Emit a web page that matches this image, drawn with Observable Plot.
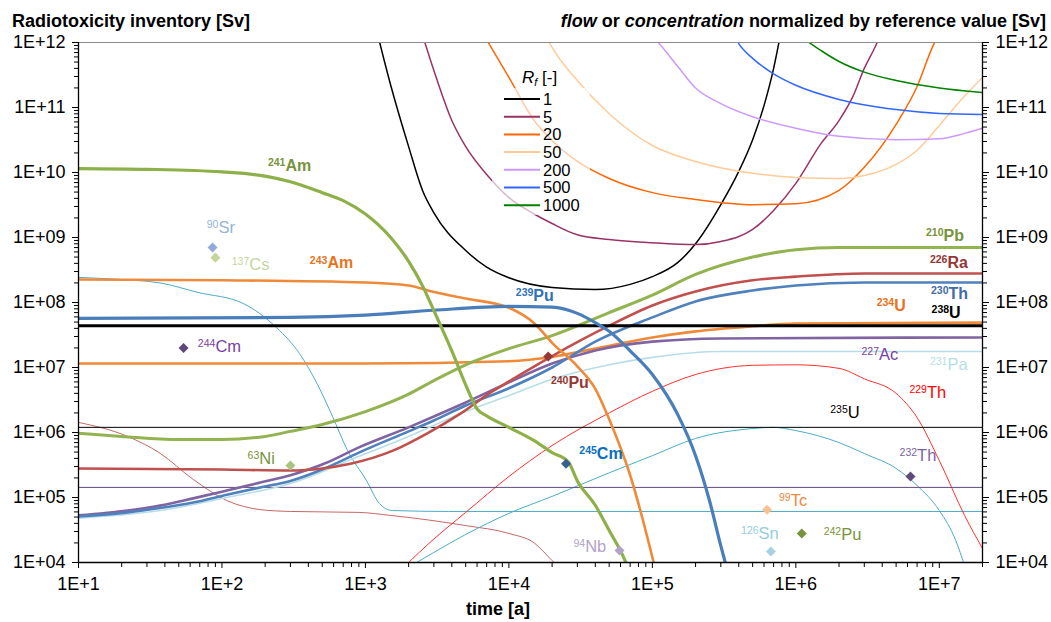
<!DOCTYPE html>
<html><head><meta charset="utf-8">
<script src="https://cdn.jsdelivr.net/npm/d3@7"></script>
<script src="https://cdn.jsdelivr.net/npm/@observablehq/plot@0.6"></script>
<style>
body{margin:0;background:#fff;}
#chart{width:1051px;height:622px;}
</style>
</head><body><div id="chart"></div>
<script>
// ---------------- data (time [a], value [Sv]) ----------------
const am241 = [[10,1.15e10],[30,1.12e10],[100,1.02e10],[200,8.8e9],[300,7.2e9],[500,4.9e9],[700,3.7e9],[1000,2.3e9],[1500,1e9],[2000,4.3e8],[2500,1.8e8],[3000,7.5e7],[4000,1.8e7],[5000,5.4e6],[6000,2.3e6],[7000,1.8e6],[1e4,1.2e6],[1.5e4,7.5e5],[2e4,4.9e5],[2.6e4,3.5e5],[3e4,1.8e5],[4e4,7.6e4],[5e4,3.1e4],[6.2e4,1.3e4],[7e4,7e3]];
const am243 = [[10,2.26e8],[100,2.2e8],[1000,2.03e8],[2000,1.83e8],[3000,1.45e8],[5000,1.15e8],[1e4,8.3e7],[1.5e4,4.8e7],[2e4,2.4e7],[3e4,1.04e7],[4e4,4.7e6],[5e4,1.6e6],[7e4,2.2e5],[1e5,1.2e4],[1.1e5,5e3]];
const pu239 = [[10,5.7e7],[300,5.9e7],[1000,6.4e7],[3000,7.6e7],[1e4,8.7e7],[2e4,8.5e7],[3e4,6.8e7],[4e4,4.9e7],[5e4,3.6e7],[7e4,1.8e7],[1e5,7.8e6],[1.5e5,1.9e6],[2e5,4.4e5],[2.5e5,9e4],[3e5,1.8e4],[3.5e5,5e3]];
const u238 = [[10,4.4e7],[2e7,4.4e7]];
const u234 = [[10,1.15e7],[1000,1.15e7],[1e4,1.25e7],[2e4,1.45e7],[4e4,1.96e7],[1e5,2.9e7],[2e5,3.6e7],[5e5,4.3e7],[1e6,4.75e7],[2e7,4.9e7]];
const pb210 = [[10,9.7e5],[20,8.7e5],[50,7.8e5],[100,7.8e5],[200,8.7e5],[300,1.04e6],[500,1.33e6],[1000,2.1e6],[2000,3.9e6],[3000,6.3e6],[5000,1.1e7],[1e4,1.95e7],[2e4,3.1e7],[5e4,7e7],[1e5,1.3e8],[2e5,2.7e8],[5e5,5e8],[1e6,6.5e8],[2e6,7e8],[2e7,7e8]];
const ra226 = [[10,2.8e5],[100,2.7e5],[300,2.6e5],[500,2.8e5],[785,3.3e5],[1570,5.3e5],[2700,9.7e5],[4590,1.95e6],[7800,4.4e6],[1e4,6.1e6],[2e4,1.5e7],[5e4,4.4e7],[1e5,9e7],[2e5,1.48e8],[5e5,2.2e8],[1e6,2.5e8],[3e6,2.8e8],[2e7,2.8e8]];
const ac227 = [[10,5.3e4],[22,6.3e4],[37,7.5e4],[63,9.7e4],[108,1.28e5],[185,1.7e5],[300,2.2e5],[540,3.45e5],[900,5.9e5],[2000,1.2e6],[3000,1.76e6],[5000,2.9e6],[1e4,5.9e6],[2e4,1.15e7],[4e4,1.83e7],[1e5,2.5e7],[3e5,2.8e7],[2e7,2.9e7]];
const th230 = [[10,5.1e4],[22,5.9e4],[37,6.9e4],[63,8.4e4],[108,1.1e5],[185,1.43e5],[300,1.8e5],[540,2.9e5],[900,4.9e5],[2000,1.04e6],[3000,1.53e6],[5000,2.6e6],[1e4,4.8e6],[2e4,1e7],[4e4,2.5e7],[1e5,5.9e7],[2e5,1.04e8],[5e5,1.53e8],[1e6,1.83e8],[3e6,2.03e8],[2e7,2.03e8]];
const pa231 = [[10,4.8e4],[37,6.3e4],[108,1e5],[300,1.64e5],[900,4.3e5],[2000,8.7e5],[5000,2.1e6],[1e4,3.7e6],[2e4,6.6e6],[5e4,1.1e7],[1e5,1.43e7],[3e5,1.76e7],[2e7,1.76e7]];
const u235 = [[10,1.2e6],[2e7,1.2e6]];
const th232 = [[10,1.43e5],[2e7,1.43e5]];
const tealDecay = [[10,2.43e8],[17,2.3e8],[37,2e8],[68,1.43e8],[140,9.7e7],[240,4.1e7],[347,1.64e7],[463,5.5e6],[590,1.76e6],[750,5.3e5],[1020,1.8e5],[1250,8.1e4],[1540,6.3e4],[3800,6.1e4],[2e7,6.1e4]];
const brownThin = [[10,1.43e6],[22,8.7e5],[37,4.8e5],[63,1.9e5],[108,9e4],[185,6.5e4],[300,6.1e4],[900,5.9e4],[1500,5.3e4],[5000,3.7e4],[1e4,2.8e4],[1.5e4,2e4],[2e4,1.07e4],[2.2e4,8.7e3]];
const th229 = [[1900,9e3],[3000,2.3e4],[5000,5.9e4],[1e4,2.1e5],[2e4,6.3e5],[5e4,2e6],[1e5,4.3e6],[2e5,7.8e6],[5e5,1.08e7],[1e6,1.1e7],[2e6,9.7e6],[3e6,6.7e6],[5e6,4e6],[7e6,1.7e6],[1e7,3.7e5],[1.5e7,5.3e4],[2e7,1.64e4]];
const tealRise = [[2100,9e3],[3000,1.43e4],[5000,2.7e4],[1e4,5.7e4],[2e4,1.04e5],[5e4,2.4e5],[1e5,4.4e5],[2e5,8.1e5],[5e5,1.15e6],[7e5,1.2e6],[1e6,1.07e6],[2e6,7e5],[3e6,4.75e5],[5e6,2.8e5],[7e6,1.53e5],[1e7,6.3e4],[1.3e7,2.2e4],[1.5e7,9e3]];

// flow / concentration curves for retardation factors
const rf1 = [[1200,1.5e12],[1500,2.2e11],[2000,2.5e10],[2500,5.3e9],[3000,2.4e9],[5000,6.3e8],[7000,3.5e8],[1e4,2.4e8],[2e4,1.7e8],[4e4,1.58e8],[7e4,1.9e8],[1e5,2.5e8],[1.5e5,4.1e8],[2e5,8e8],[3e5,3.2e9],[4e5,1.04e10],[5e5,3.2e10],[6e5,1.07e11],[7e5,4e11],[7.8e5,1.3e12]];
const rf5 = [[2500,1.3e12],[3000,3.7e11],[4000,6.3e10],[5000,2.5e10],[7000,9.3e9],[1e4,4.1e9],[1.5e4,2.3e9],[2e4,1.64e9],[3e4,1.1e9],[5e4,9.3e8],[1e5,8.3e8],[2e5,7.8e8],[3e5,8.7e8],[5e5,1.33e9],[7e5,2.6e9],[1e6,6.8e9],[1.5e6,2.8e10],[2e6,6.3e10],[2.5e6,1.48e11],[3e6,4e11],[3.5e6,7.8e11],[3.9e6,1.3e12]];
const rf20 = [[7000,1.1e12],[1e4,2.9e11],[1.5e4,6.3e10],[2e4,3.1e10],[3e4,1.48e10],[5e4,8.1e9],[1e5,4.9e9],[2e5,3.85e9],[5e5,3.2e9],[1e6,3.3e9],[2e6,5.3e9],[3e6,1.2e10],[5e6,5.5e10],[7e6,2.1e11],[9e6,8.7e11],[1e7,1.4e12]];
const rf50 = [[1.8e4,1.3e12],[2e4,8.4e11],[3e4,2.6e11],[5e4,8e10],[1e5,2.6e10],[2e5,1.48e10],[5e5,9.7e9],[1e6,8.4e9],[2e6,8.1e9],[3e6,9e9],[5e6,1.33e10],[7e6,2.2e10],[1e7,5.3e10],[1.5e7,1.5e11],[2e7,2.9e11]];
const rf200 = [[1e5,1.25e12],[1.1e5,1e12],[1.5e5,4.3e11],[2e5,2e11],[3e5,1.15e11],[5e5,7.2e10],[1e6,4.8e10],[2e6,3.6e10],[5e6,3.2e10],[1e7,3.3e10],[1.5e7,4e10],[2e7,4.8e10]];
const rf500 = [[3.7e5,1.3e12],[4e5,9.6e11],[5e5,5.7e11],[7e5,3.3e11],[1e6,2.2e11],[2e6,1.33e11],[5e6,9.3e10],[1e7,8.1e10],[2e7,7.8e10]];
const rf1000 = [[1.1e6,1.2e12],[1.5e6,7.5e11],[2e6,5.1e11],[3e6,3.5e11],[5e6,2.6e11],[1e7,2e11],[2e7,1.7e11]];

// single-value markers
const markerNames = ["90Sr","137Cs","244Cm","63Ni","240Pu","245Cm","94Nb","99Tc","126Sn","242Pu","232Th"];
const markerT = [86, 90, 54, 300, 1.88e4, 2.5e4, 5.9e4, 6.3e5, 6.7e5, 1.1e6, 6.3e6];
const markerV = [7e8, 4.9e8, 2e7, 3.1e5, 1.48e7, 3.3e5, 1.53e4, 6.5e4, 1.48e4, 2.8e4, 2.1e5];

// nuclide labels: mass number, element, anchor (time, value)
const labelIso = ["241","90","137","243","239","240","210","226","230","234","238","227","231","229","235","244","245","63","232","99","126","242","94"];
const labelEl  = ["Am","Sr","Cs","Am","Pu","Pu","Pb","Ra","Th","U","U","Ac","Pa","Th","U","Cm","Cm","Ni","Th","Tc","Sn","Pu","Nb"];
const labelT   = [277, 94.5, 155, 543, 1.48e4, 2.6e4, 1.07e7, 1.14e7, 1.16e7, 4.85e6, 1.17e7, 3.8e6, 1.14e7, 8.2e6, 2.3e6, 90, 4.1e4, 182, 7e6, 9.2e5, 5.5e5, 2.07e6, 3.4e4];
const labelV   = [1.28e10, 1.43e9, 3.85e8, 4e8, 1.28e8, 5.7e6, 1.07e9, 4.1e8, 1.37e8, 9e7, 7e7, 1.58e7, 1.11e7, 4.1e6, 2e6, 2.1e7, 4.75e5, 4e5, 4.4e5, 9e4, 2.8e4, 2.7e4, 1.76e4];

const rfLevels = ["1","5","20","50","200","500","1000"];
const yMajor = [1e4,1e5,1e6,1e7,1e8,1e9,1e10,1e11,1e12];
const xMajor = [1e1,1e2,1e3,1e4,1e5,1e6,1e7];
const xDomain = [10, 2e7];
const yDomain = [1e4, 1e12];

// ---------------- styles ----------------
const FONT = "'Liberation Sans', Arial, Helvetica, sans-serif";
const labelColor = ["#77933c","#95b3d7","#c3d69b","#e8731c","#2f72b8","#953735","#77933c","#953735","#416da6","#e8731c","#000000","#7a40a8","#b7dee8","#ff0000","#000000","#7a40a8","#0a6fc0","#77933c","#8064a2","#f08a40","#93cddd","#77933c","#b3a2c7"];
const labelBold  = [1,0,0,1,1,1,1,1,1,1,1,0,0,0,0,0,1,0,0,0,0,0,0];
const markerColor = ["#8faadc","#c3d69b","#5f497a","#a9c47f","#953735","#376092","#b3a2c7","#fac090","#a5d2e0","#77933c","#604a7b"];
const rfColor = ["#000000","#993366","#ff6600","#ffcc99","#cc99ff","#3366ff","#008000"];
const rfData = [rf1, rf5, rf20, rf50, rf200, rf500, rf1000];

const yMinor = [], xMinor = [];
for (let k = 4; k < 12; k++) for (let m = 2; m <= 9; m++) yMinor.push(m * 10 ** k);
for (let k = 1; k <= 7; k++) for (let m = 2; m <= 9; m++) if (m * 10 ** k <= 2e7) xMinor.push(m * 10 ** k);

const fmtY = d => "1E+" + String(Math.round(Math.log10(d))).padStart(2, "0");
const fmtX = d => "1E+" + Math.round(Math.log10(d));
const blank = () => "";

const series = [
  {d: tealDecay, c: "#4bacc6", w: 1},
  {d: brownThin, c: "#c56866", w: 1},
  {d: th229, c: "#ff3030", w: 1},
  {d: tealRise, c: "#4bacc6", w: 1},
  {d: u235, c: "#000000", w: 1},
  {d: th232, c: "#604a7b", w: 1},
  {d: pa231, c: "#b7dee8", w: 1.6},
  {d: u234, c: "#ef8a3a", w: 2.6},
  {d: ac227, c: "#8064a2", w: 2.6},
  {d: th230, c: "#4f81bd", w: 2.6},
  {d: ra226, c: "#c0504d", w: 2.6},
  {d: pb210, c: "#92b350", w: 3},
  {d: am243, c: "#ef8a3a", w: 2.6},
  {d: u238, c: "#000000", w: 3},
  {d: pu239, c: "#4a7ebb", w: 3.2},
  {d: am241, c: "#8db049", w: 3.2}
];

const lineOpts = (s) => ({x: d => d[0], y: d => d[1], stroke: s.c, strokeWidth: s.w, curve: "monotone-x", clip: true});

const labels = labelIso.map((iso, i) => ({iso, el: labelEl[i], t: labelT[i], v: labelV[i], color: labelColor[i], bold: labelBold[i]}));
const markers = markerNames.map((n, i) => ({n, t: markerT[i], v: markerV[i], color: markerColor[i]}));

const marks = [
  ...rfData.map((d, i) => Plot.line(d, {x: p => p[0], y: p => p[1], stroke: rfColor[i], strokeWidth: 1.5, curve: "monotone-x", clip: true})),
  ...series.map(s => Plot.line(s.d, lineOpts(s))),
  Plot.dot(markers, {x: "t", y: "v", symbol: "square", r: 4, rotate: 45, fill: "color", stroke: "none"}),
  Plot.text(labels.filter(d => d.bold), {x: "t", y: "v", text: "el", fill: "color", textAnchor: "start", fontSize: 16, fontWeight: "bold", lineAnchor: "middle"}),
  Plot.text(labels.filter(d => d.bold), {x: "t", y: "v", text: "iso", fill: "color", textAnchor: "end", fontSize: 10.5, fontWeight: "bold", dy: -3, lineAnchor: "middle"}),
  Plot.text(labels.filter(d => !d.bold), {x: "t", y: "v", text: "el", fill: "color", textAnchor: "start", fontSize: 16.5, lineAnchor: "middle"}),
  Plot.text(labels.filter(d => !d.bold), {x: "t", y: "v", text: "iso", fill: "color", textAnchor: "end", fontSize: 10.5, dy: -3, lineAnchor: "middle"}),
  Plot.ruleY([yDomain[1]], {stroke: "#8c8c8c", strokeWidth: 1}),
  Plot.ruleY([yDomain[0]], {stroke: "#000", strokeWidth: 1.3}),
  Plot.ruleX([xDomain[0]], {stroke: "#000", strokeWidth: 1.3}),
  Plot.ruleX([xDomain[1]], {stroke: "#000", strokeWidth: 1.3}),
  Plot.axisY({anchor: "left", ticks: yMajor, tickFormat: fmtY, tickSize: 6, tickPadding: 7, fontSize: 18, label: null}),
  Plot.axisY({anchor: "left", ticks: yMinor, tickFormat: blank, tickSize: 4, label: null}),
  Plot.axisY({anchor: "right", ticks: yMajor, tickFormat: fmtY, tickSize: 6, tickPadding: 7, fontSize: 18, label: null}),
  Plot.axisY({anchor: "right", ticks: yMinor, tickFormat: blank, tickSize: 4, label: null}),
  Plot.axisX({anchor: "bottom", ticks: xMajor, tickFormat: fmtX, tickSize: 6, tickPadding: 9, fontSize: 18, label: null}),
  Plot.axisX({anchor: "bottom", ticks: xMinor, tickFormat: blank, tickSize: 5, label: null})
];

const plot = Plot.plot({
  width: 1051, height: 622,
  marginLeft: 78, marginRight: 69, marginTop: 42, marginBottom: 60,
  style: {fontFamily: FONT, background: "#fff", color: "#000"},
  x: {type: "log", domain: xDomain},
  y: {type: "log", domain: yDomain},
  color: {type: "identity"},
  marks
});

const svg = d3.select(plot);
// titles
svg.append("text").attr("x", 12).attr("y", 27).attr("text-anchor", "start").attr("font-family", FONT).attr("font-size", 18).attr("font-weight", "bold").attr("fill", "#000").text("Radiotoxicity inventory [Sv]");
const rt = svg.append("text").attr("x", 1046).attr("y", 27).attr("text-anchor", "end").attr("font-family", FONT).attr("font-size", 18).attr("font-weight", "bold").attr("fill", "#000");
rt.append("tspan").attr("font-style", "italic").text("flow");
rt.append("tspan").text(" or ");
rt.append("tspan").attr("font-style", "italic").text("concentration");
rt.append("tspan").text(" normalized by reference value [Sv]");
svg.append("text").attr("x", 498).attr("y", 615).attr("text-anchor", "middle").attr("font-family", FONT).attr("font-size", 18).attr("font-weight", "bold").attr("fill", "#000").text("time [a]");

// legend
const lg = svg.append("g").attr("font-family", FONT).attr("text-anchor", "start");
lg.append("rect").attr("x", 492).attr("y", 88).attr("width", 98).attr("height", 127).attr("fill", "#fff").attr("fill-opacity", 0.65);
const lt = lg.append("text").attr("x", 522).attr("y", 83).attr("font-size", 17).attr("fill", "#000");
lt.append("tspan").attr("font-style", "italic").text("R");
lt.append("tspan").attr("font-style", "italic").attr("font-size", 11).attr("dy", 3).text("f");
lt.append("tspan").attr("dy", -3).text(" [-]");
rfLevels.forEach((r, i) => {
  const y = 99 + i * 17.7;
  lg.append("line").attr("x1", 504).attr("x2", 540).attr("y1", y).attr("y2", y).attr("stroke", rfColor[i]).attr("stroke-width", 2);
  lg.append("text").attr("x", 543).attr("y", y).attr("dy", "0.36em").attr("font-size", 16.5).attr("fill", "#000").text(r);
});

document.getElementById("chart").appendChild(plot);
</script>
</body></html>
